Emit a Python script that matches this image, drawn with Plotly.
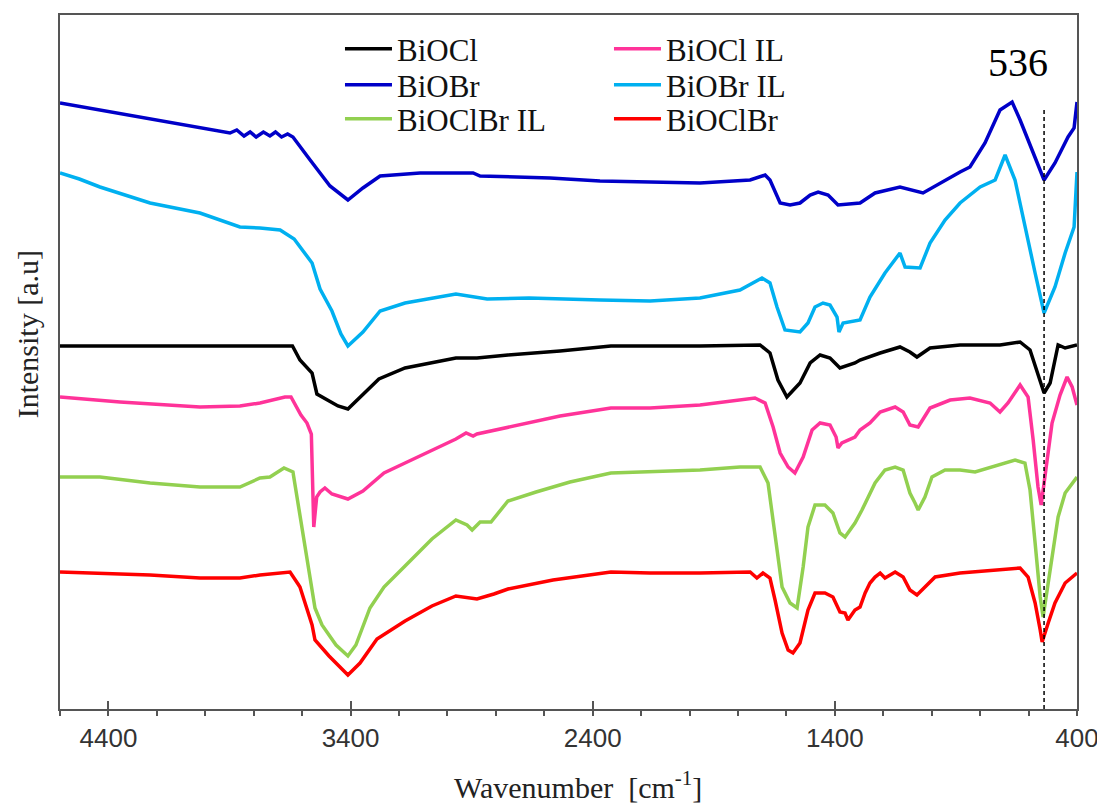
import plotly.graph_objects as go

# ---------------- data (wavenumber in cm-1, intensity in a.u.) ----------------
wn_BiOCl = [4600, 3640, 3609, 3559, 3539, 3452, 3411, 3349, 3283, 3175, 2965, 2878, 2750, 2535, 2325,
            1957, 1709, 1668, 1635, 1598, 1544, 1502, 1461, 1420, 1379, 1317, 1296, 1213, 1131, 1090,
            1061, 1007, 883, 718, 635, 594, 561, 536, 511, 478, 449, 400]
I_BiOCl = [363, 363, 349, 336, 315, 303, 300, 315, 330, 341, 351, 351, 354, 358, 363,
           363, 364, 356, 329, 312, 326, 346, 354, 351, 341, 346, 349, 356, 362, 357,
           352, 361, 364, 364, 367, 359, 336, 316, 326, 364, 361, 364]

wn_BiOCl_IL = [4600, 4352, 4022, 3857, 3774, 3671, 3646, 3605, 3580, 3562, 3552, 3540, 3526, 3506, 3477,
               3411, 3349, 3262, 3175, 2965, 2923, 2894, 2878, 2750, 2535, 2325, 2163, 1957, 1792, 1730,
               1688, 1655, 1626, 1593, 1565, 1531, 1494, 1461, 1420, 1395, 1387, 1371, 1317, 1296, 1255,
               1213, 1151, 1118, 1090, 1056, 1007, 924, 842, 759, 718, 685, 635, 602, 581, 561,
               548, 528, 503, 470, 441, 420, 400]
I_BiOCl_IL = [312, 307, 302, 303, 306, 312, 312, 294, 286, 275, 182, 212, 217, 221, 215,
              210, 218, 236, 246, 270, 276, 273, 275, 282, 293, 301, 301, 304, 309, 311,
              306, 282, 256, 242, 236, 252, 279, 286, 284, 272, 261, 266, 272, 279, 286,
              297, 302, 297, 284, 282, 301, 309, 311, 306, 297, 306, 324, 312, 269, 222,
              204, 239, 286, 314, 332, 322, 304]

wn_BiOBr = [4600, 4228, 3898, 3870, 3840, 3815, 3790, 3760, 3733, 3710, 3685, 3660,
            3638, 3567, 3485, 3411, 3349, 3278, 3113, 2894, 2865, 2576, 2370, 1957, 1750, 1688, 1668,
            1626, 1585, 1544, 1502, 1469, 1428, 1387, 1296, 1234, 1131, 1036, 966, 883, 842, 780,
            718, 668, 635, 573, 536, 491, 437, 412, 400]
I_BiOBr = [606, 590, 576, 579, 573, 577, 572, 577, 573, 577, 572, 575,
           572, 549, 523, 509, 521, 533, 536, 536, 533, 531, 528, 526, 529, 534, 529,
           506, 504, 506, 514, 517, 514, 504, 506, 516, 522, 516, 526, 537, 542, 566,
           599, 607, 589, 552, 529, 546, 572, 581, 607]

wn_BiOBr_IL = [4600, 4520, 4435, 4228, 4022, 3857, 3774, 3691, 3633, 3588, 3559, 3526, 3477, 3440, 3411, 3349,
               3278, 3175, 2965, 2836, 2663, 2370, 2163, 1957, 1792, 1701, 1668, 1639, 1606, 1544, 1511,
               1482, 1449, 1420, 1391, 1383, 1366, 1296, 1255, 1193, 1131, 1110, 1048, 1007, 945, 883,
               800, 738, 697, 656, 615, 573, 536, 491, 449, 412, 400]
I_BiOBr_IL = [536, 530, 522, 506, 496, 482, 481, 479, 470, 455, 446, 420, 398, 375, 363, 377,
              398, 406, 415, 410, 411, 409, 408, 411, 419, 431, 426, 402, 379, 377, 386,
              402, 406, 404, 392, 377, 386, 389, 412, 436, 456, 442, 441, 466, 489, 506,
              522, 529, 554, 529, 482, 436, 396, 422, 456, 482, 537]

wn_BiOClBr_IL = [4600, 4435, 4228, 4022, 3857, 3774, 3733, 3675, 3638, 3617, 3588, 3547, 3518, 3460, 3411,
                 3378, 3320, 3262, 3175, 3064, 2965, 2919, 2898, 2865, 2820, 2750, 2634, 2494, 2325, 2163,
                 1957, 1792, 1709, 1676, 1647, 1618, 1585, 1556, 1531, 1511, 1482, 1441, 1408, 1379, 1358,
                 1317, 1288, 1234, 1193, 1151, 1118, 1090, 1069, 1056, 1028, 999, 945, 883, 821, 718,
                 656, 615, 594, 573, 552, 540, 511, 478, 449, 400]
I_BiOClBr_IL = [232, 232, 226, 222, 222, 231, 232, 241, 237, 205, 158, 101, 84, 64, 53,
                64, 101, 122, 143, 170, 189, 184, 179, 187, 187, 208, 217, 227, 236, 237,
                239, 242, 242, 226, 176, 122, 106, 101, 142, 182, 204, 204, 196, 176, 172,
                186, 199, 226, 239, 242, 239, 216, 206, 199, 212, 232, 239, 239, 237, 244,
                249, 246, 219, 166, 112, 92, 139, 192, 216, 232]

wn_BiOClBr = [4600, 4228, 4022, 3857, 3774, 3650, 3617, 3609, 3559, 3547, 3489, 3411, 3361, 3291, 3175,
              3064, 2965, 2878, 2808, 2750, 2564, 2325, 2163, 1957, 1750, 1722, 1697, 1668, 1647, 1618,
              1593, 1573, 1544, 1511, 1482, 1441, 1408, 1379, 1358, 1346, 1317, 1296, 1275, 1255, 1234,
              1213, 1193, 1151, 1118, 1090, 1061, 1028, 986, 883, 718, 635, 602, 573, 552, 544,
              519, 491, 449, 400]
I_BiOClBr = [137, 134, 131, 131, 134, 137, 125, 122, 84, 69, 53, 34, 46, 70, 88,
             103, 113, 110, 115, 120, 129, 137, 136, 136, 137, 131, 136, 131, 109, 76,
             59, 56, 66, 99, 116, 116, 112, 97, 96, 89, 99, 102, 116, 126, 132,
             136, 131, 137, 132, 119, 114, 122, 132, 136, 139, 141, 132, 106, 79, 67,
             86, 106, 126, 136]

marker_wn = 536
marker_top = 602
x_ticks = [4400, 3400, 2400, 1400, 400]

# name, x, y, colour, legend id, legend column x (paper), legend row y (paper)
series = [
    ("BiOCl", wn_BiOCl, I_BiOCl, "#000000", "legend", 0.2753, 0.951),
    ("BiOBr", wn_BiOBr, I_BiOBr, "#0000C8", "legend2", 0.2753, 0.899),
    ("BiOClBr IL", wn_BiOClBr_IL, I_BiOClBr_IL, "#92D050", "legend3", 0.2753, 0.850),
    ("BiOCl IL", wn_BiOCl_IL, I_BiOCl_IL, "#FF3399", "legend4", 0.5398, 0.951),
    ("BiOBr IL", wn_BiOBr_IL, I_BiOBr_IL, "#00B0F0", "legend5", 0.5398, 0.899),
    ("BiOClBr", wn_BiOClBr, I_BiOClBr, "#FF0000", "legend6", 0.5398, 0.850),
]

serif = "Liberation Serif, Times New Roman, serif"
sans = "Liberation Sans, Arial, sans-serif"
axcol = "#555555"

fig = go.Figure()
legends = {}
for name, xs, ys, col, leg, lx, ly in series:
    fig.add_trace(go.Scatter(x=xs, y=ys, mode="lines", name=name,
                             line=dict(color=col, width=3.5), legend=leg))
    legends[leg] = dict(x=lx, y=ly, xanchor="left", yanchor="middle",
                        bgcolor="rgba(0,0,0,0)", itemwidth=47,
                        font=dict(family=serif, size=31, color="#111111"))

# dashed marker line at 536 cm-1 (on overlay axis that carries the inner part of major ticks)
fig.add_trace(go.Scatter(x=[marker_wn, marker_wn], y=[0, marker_top], mode="lines",
                         line=dict(color="#000000", width=1.5, dash="4px,3px"),
                         showlegend=False, xaxis="x2", hoverinfo="skip"))

fig.update_layout(
    # the page body adds an 8 px offset; size and margins compensate for it
    width=1097, height=797,
    margin=dict(l=52, r=28, t=7, b=96, autoexpand=False),
    paper_bgcolor="white", plot_bgcolor="white",
    showlegend=True,
    xaxis=dict(range=[4600, 400], tickmode="array", tickvals=x_ticks,
               ticktext=[str(v) for v in x_ticks], automargin=False,
               ticks="outside", ticklen=5, tickwidth=1.5, tickcolor=axcol,
               minor=dict(tickmode="linear", tick0=400, dtick=200, ticks="outside",
                          ticklen=5, tickwidth=1.5, tickcolor=axcol),
               showline=True, linecolor=axcol, linewidth=1.5, mirror=True,
               showgrid=False, zeroline=False,
               tickfont=dict(family=sans, size=26, color="#333333")),
    xaxis2=dict(range=[4600, 400], overlaying="x", anchor="y", side="bottom",
                tickmode="array", tickvals=x_ticks, ticks="inside", ticklen=8,
                tickwidth=1.5, tickcolor=axcol, showticklabels=False, automargin=False,
                showline=False, showgrid=False, zeroline=False),
    yaxis=dict(range=[0, 694], showline=True, linecolor=axcol, linewidth=1.5, mirror=True,
               ticks="", showticklabels=False, showgrid=False, zeroline=False, automargin=False),
    annotations=[
        dict(x=643, y=647, xref="x", yref="y", text="536", showarrow=False,
             font=dict(family=serif, size=40, color="#000000")),
        dict(x=0.5093, y=-0.1095, xref="paper", yref="paper", xanchor="center", yanchor="middle",
             text="Wavenumber  [cm<sup>-1</sup>]", showarrow=False,
             font=dict(family=serif, size=30, color="#222222")),
        dict(x=-0.0324, y=0.540, xref="paper", yref="paper", xanchor="center", yanchor="middle",
             text="Intensity [a.u]", textangle=-90, showarrow=False,
             font=dict(family=serif, size=30, color="#222222")),
    ],
    **legends,
)

fig.write_html("out.html")
